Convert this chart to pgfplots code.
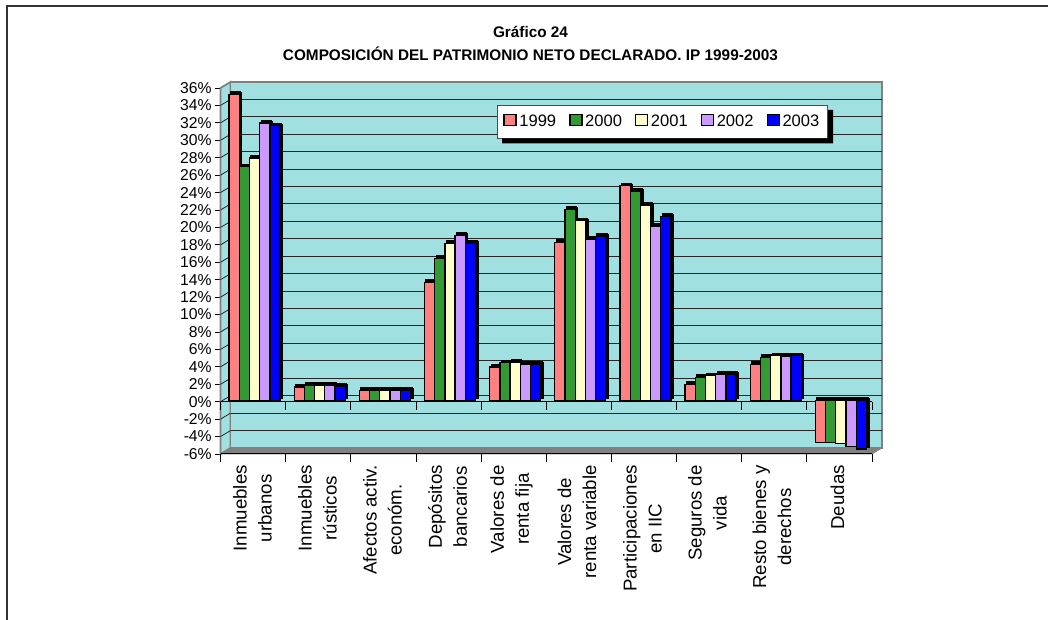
\documentclass[border=0pt]{standalone}
\usepackage{fontspec}
\setmainfont{Liberation Sans}
\usepackage{pgfplots}
\pgfplotsset{compat=1.18}
\usepackage{pgfplotstable}

% 1 reference pixel = 0.75pt
\newlength{\px}
\setlength{\px}{0.75pt}

\definecolor{wallc}{HTML}{A0E0E0}
\definecolor{floorc}{HTML}{808080}
\definecolor{pinkc}{HTML}{FF8080}
\definecolor{greenc}{HTML}{339933}
\definecolor{yellowc}{HTML}{FFFFCC}
\definecolor{purplec}{HTML}{CC99FF}
\definecolor{bluec}{HTML}{0000FF}

\pgfplotstableread{
x y99 y00 y01 y02 y03
0.5 35.1 26.8 27.8 31.8 31.5
1.5 1.5 1.7 1.7 1.7 1.6
2.5 1.1 1.1 1.1 1.1 1.1
3.5 13.5 16.3 18.0 18.9 18.0
4.5 3.8 4.3 4.4 4.1 4.1
5.5 18.1 21.9 20.6 18.5 18.8
6.5 24.6 24.0 22.4 20.0 21.1
7.5 1.8 2.6 2.8 3.0 3.0
8.5 4.1 4.9 5.1 5.0 5.1
9.5 -4.85 -4.85 -5.0 -5.3 -5.6
}\datatable

\pgfplotsset{boxlegend/.style={legend image code/.code={
  \draw[fill=#1,draw=black,line width=1.5\px] (1\px,-4\px) rectangle (13\px,7\px);
}}}

% one series: black extrusion copies, then the front face
% #1 column, #2 colour, #3 bar shift in px
\newcommand{\barseries}[3]{
  \addplot[ybar,forget plot,bar width=10.2*\px,bar shift=#3*\px,draw=black,fill=black,
    line width=1.3\px,xshift=3\px,yshift=4\px] table[x=x,y=#1] {\datatable};
  \addplot[ybar,forget plot,bar width=10.2*\px,bar shift=#3*\px,draw=black,fill=black,
    line width=1.3\px,xshift=4\px,yshift=3\px] table[x=x,y=#1] {\datatable};
  \addplot[ybar,forget plot,bar width=10.2*\px,bar shift=#3*\px,draw=black,fill=#2,
    line width=1.3\px,xshift=1.5\px,yshift=1.5\px] table[x=x,y=#1] {\datatable};
}

\begin{document}
\begin{tikzpicture}[x=\px,y=\px]
% page
\path[use as bounding box] (0,0) rectangle (1048,620);
\draw[line width=1.2\px,black!80] (7,0) -- (7,614) -- (1048,614);
\node[font=\bfseries\fontsize{11.5}{17}\selectfont,align=center,anchor=center] at (530.5,576.5)
  {Gráfico 24\\COMPOSICIÓN DEL PATRIMONIO NETO DECLARADO. IP 1999-2003};

\begin{axis}[
  at={(220.5\px,166\px)},anchor=south west,
  scale only axis,width=651.5\px,height=366\px,
  xmin=0,xmax=10,ymin=-6,ymax=36,
  clip=false,
  axis x line=none,
  axis y line*=left,
  axis line style={black,line width=0.8\px},
  ytick={-6,-4,...,36},
  yticklabel={\pgfmathprintnumber{\tick}\%},
  /pgf/number format/assume math mode=true,
  yticklabel style={font=\fontsize{11.8}{13}\selectfont,inner sep=2.5\px},
  tick style={black,line width=0.8\px},
  major tick length=6\px,
  tick align=outside,
  legend columns=5,
  legend cell align=left,
  legend style={name=lg,at={(rel axis cs:0,1)},anchor=north west,
    xshift=276.5\px,yshift=-17\px,
    fill=white,draw=black!70,line width=0.8\px,
    font=\fontsize{12.4}{14}\selectfont,
    nodes={inner sep=2.5\px},
    inner xsep=6\px,inner ysep=7\px,
    /tikz/every even column/.append style={column sep=10.5\px}},
]
% left side wall and back wall
\addplot[forget plot,fill=wallc,draw=floorc,line width=1.8\px] coordinates
  {(0,-6)(0,36)(0.154,36.69)(0.154,-5.31)} -- cycle;
\addplot[forget plot,fill=wallc,draw=floorc,line width=1.8\px] coordinates
  {(0.154,-5.31)(0.154,36.69)(10.154,36.69)(10.154,-5.31)} -- cycle;
% floor
\addplot[forget plot,fill=floorc,draw=floorc,line width=0.6\px] coordinates
  {(0,-6)(0.154,-5.31)(10.154,-5.31)(10,-6)} -- cycle;
% gridlines on the back wall and their slant on the side wall
\pgfplotsinvokeforeach{-4,-2,...,34}{
  \addplot[forget plot,black!85,line width=1\px,xshift=10\px,yshift=6\px] coordinates {(0,#1)(10,#1)};
  \addplot[forget plot,black!85,line width=0.8\px] coordinates {(0,#1)(0.154,#1+0.69)};
}
% x axis at zero and at the bottom, with ticks
\addplot[forget plot,black,line width=0.8\px] coordinates {(0,0)(10,0)};
\addplot[forget plot,black,line width=1\px] coordinates {(0,-6)(10,-6)};
\pgfplotsinvokeforeach{0,...,10}{
  \addplot[forget plot,black,line width=0.8\px] coordinates {(#1,0)(#1,-0.9)};
  \addplot[forget plot,black,line width=0.8\px] coordinates {(#1,-6)(#1,-6.9)};
}
\barseries{y99}{pinkc}{-20.4}
\barseries{y00}{greenc}{-10.2}
\barseries{y01}{yellowc}{0}
\barseries{y02}{purplec}{10.2}
\barseries{y03}{bluec}{20.4}
\addlegendimage{boxlegend=pinkc}
\addlegendimage{boxlegend=greenc}
\addlegendimage{boxlegend=yellowc}
\addlegendimage{boxlegend=purplec}
\addlegendimage{boxlegend=bluec}
\legend{1999,2000,2001,2002,2003}
\end{axis}

% legend shadow
\fill[black] ([yshift=-5\px]lg.north east) -- ([xshift=5\px,yshift=-5\px]lg.north east)
  -- ([xshift=5\px,yshift=-5\px]lg.south east) -- ([xshift=5\px,yshift=-5\px]lg.south west)
  -- ([xshift=5\px]lg.south west) -- (lg.south east) -- cycle;

% category labels
\foreach \xx/\txt in {
  252.5/{Inmuebles\\urbanos},
  317.5/{Inmuebles\\rústicos},
  382.5/{Afectos activ.\\económ.},
  447.5/{Depósitos\\bancarios},
  511.5/{Valores de\\renta fija},
  577/{Valores de\\renta variable},
  642.5/{Participaciones\\en IIC},
  707.5/{Seguros de\\vida},
  772/{Resto bienes y\\derechos},
  837.5/{Deudas}}{
  \node[rotate=90,anchor=east,align=center,font=\fontsize{14}{18.75}\selectfont,inner sep=0pt]
    at (\xx,155) {\txt};
}
\end{tikzpicture}
\end{document}
